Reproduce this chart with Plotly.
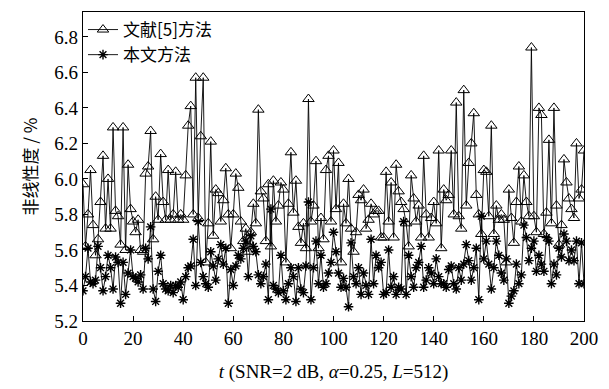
import plotly.graph_objects as go

t_values = list(range(0, 201))

ref5_method = [
    5.97, 5.62, 5.80, 6.05, 5.74, 5.57, 5.66, 5.87, 6.13, 5.72,
    6.00, 5.72, 6.29, 5.82, 5.79, 5.63, 6.29, 5.60, 6.08, 5.83,
    5.76, 5.70, 5.77, 5.60, 5.59, 6.03, 6.07, 6.27, 5.66, 5.90,
    5.77, 6.14, 5.87, 5.77, 6.05, 5.77, 5.80, 6.04, 5.77, 5.80,
    5.77, 6.02, 6.30, 6.41, 5.80, 6.57, 5.78, 6.24, 6.57, 5.53,
    5.75, 6.21, 5.68, 5.94, 5.92, 5.76, 5.88, 6.06, 5.80, 5.61,
    5.80, 6.03, 5.95, 5.76, 5.65, 5.72, 5.59, 5.70, 5.86, 5.75,
    6.39, 5.93, 5.89, 5.65, 5.97, 5.62, 5.99, 5.76, 5.85, 5.98,
    5.94, 5.53, 5.86, 6.15, 5.81, 5.99, 5.73, 5.64, 5.75, 5.61,
    6.45, 5.76, 5.85, 6.10, 5.61, 5.78, 5.66, 6.05, 6.13, 5.76,
    6.16, 5.83, 6.09, 5.53, 5.86, 5.75, 6.00, 5.72, 5.59, 5.70,
    5.91, 5.88, 5.94, 5.72, 5.77, 5.86, 5.80, 5.82, 5.82, 5.67,
    5.67, 6.04, 5.76, 5.98, 5.67, 6.08, 5.93, 5.87, 5.83, 5.75,
    5.62, 6.02, 5.89, 5.76, 5.85, 5.67, 6.13, 5.80, 5.67, 5.78,
    5.87, 5.75, 6.16, 5.61, 5.94, 5.88, 5.91, 6.16, 5.80, 6.43,
    5.79, 5.72, 6.50, 5.85, 6.09, 6.20, 6.37, 5.91, 5.80, 5.69,
    6.05, 6.04, 5.79, 6.30, 5.69, 5.85, 5.77, 5.80, 5.77, 5.53,
    5.94, 5.78, 5.64, 5.87, 6.07, 5.76, 6.02, 5.87, 5.79, 6.74,
    5.79, 5.70, 6.40, 6.36, 5.69, 5.81, 6.22, 5.75, 6.40, 5.85,
    5.63, 5.74, 6.11, 5.98, 5.89, 5.83, 5.78, 6.20, 5.89, 5.94,
    6.16,
]

this_method = [
    5.37, 5.45, 5.61, 5.42, 5.41, 5.43, 5.62, 5.50, 5.37, 5.45,
    5.57, 5.50, 5.38, 5.56, 5.53, 5.30, 5.53, 5.35, 5.47, 5.60,
    5.45, 5.44, 5.42, 5.46, 5.38, 5.61, 5.55, 5.73, 5.38, 5.31,
    5.48, 5.57, 5.41, 5.38, 5.37, 5.40, 5.36, 5.40, 5.39, 5.42,
    5.32, 5.45, 5.50, 5.51, 5.66, 5.40, 5.76, 5.53, 5.45, 5.41,
    5.39, 5.59, 5.51, 5.43, 5.55, 5.63, 5.52, 5.61, 5.30, 5.49,
    5.40, 5.51, 5.57, 5.55, 5.61, 5.65, 5.45, 5.68, 5.62, 5.59,
    5.46, 5.41, 5.45, 5.52, 5.32, 5.83, 5.40, 5.38, 5.36, 5.57,
    5.37, 5.32, 5.41, 5.50, 5.45, 5.31, 5.50, 5.38, 5.36, 5.51,
    5.87, 5.32, 5.50, 5.65, 5.41, 5.57, 5.39, 5.41, 5.47, 5.53,
    5.70, 5.59, 5.47, 5.39, 5.44, 5.39, 5.28, 5.64, 5.45, 5.41,
    5.50, 5.35, 5.47, 5.40, 5.35, 5.66, 5.41, 5.57, 5.50, 5.53,
    5.35, 5.36, 5.60, 5.39, 5.45, 5.35, 5.39, 5.38, 5.76, 5.35,
    5.57, 5.45, 5.39, 5.50, 5.53, 5.62, 5.39, 5.43, 5.50, 5.47,
    5.41, 5.55, 5.45, 5.41, 5.41, 5.39, 5.49, 5.51, 5.41, 5.38,
    5.50, 5.43, 5.52, 5.63, 5.54, 5.43, 5.50, 5.61, 5.32, 5.79,
    5.55, 5.65, 5.52, 5.38, 5.50, 5.65, 5.57, 5.47, 5.43, 5.55,
    5.30, 5.34, 5.37, 5.52, 5.41, 5.46, 5.74, 5.67, 5.54, 5.61,
    5.65, 5.48, 5.57, 5.52, 5.48, 5.67, 5.65, 5.41, 5.52, 5.46,
    5.61, 5.56, 5.69, 5.65, 5.54, 5.60, 5.54, 5.65, 5.41, 5.64,
    5.41,
]

series_names = ["文献[5]方法", "本文方法"]
x_tick_vals = list(range(0, 201, 20))
y_tick_vals = [5.2, 5.4, 5.6, 5.8, 6.0, 6.2, 6.4, 6.6, 6.8]

FONT = "Liberation Serif, Times New Roman, Noto Sans CJK SC, serif"
CJK = "Noto Sans CJK SC, Liberation Serif, serif"

fig = go.Figure()
fig.add_trace(go.Scatter(
    x=t_values, y=ref5_method, mode="lines+markers", name=series_names[0],
    line=dict(color="black", width=0.9),
    marker=dict(symbol="triangle-up-open", size=10, color="black", line=dict(width=1)),
))
fig.add_trace(go.Scatter(
    x=t_values, y=this_method, mode="lines+markers", name=series_names[1],
    line=dict(color="black", width=0.9),
    marker=dict(symbol="asterisk-open", size=8, color="black", line=dict(width=1.4, color="black")),
))

fig.update_layout(
    width=609, height=389,
    margin=dict(l=83, r=16, t=11, b=60),
    paper_bgcolor="white", plot_bgcolor="white",
    font=dict(family=FONT, size=19, color="black"),
    showlegend=True,
    legend=dict(x=0.0, y=1.0, xanchor="left", yanchor="top",
                bgcolor="rgba(0,0,0,0)", borderwidth=0,
                font=dict(family=CJK, size=17, color="black"),
                tracegroupgap=0, itemsizing="trace",
                traceorder="normal"),
)

fig.update_xaxes(
    range=[0, 200], tickvals=x_tick_vals, ticks="inside", ticklen=5,
    tickcolor="black", showline=True, linecolor="black", linewidth=1.2,
    mirror=True, showgrid=False, zeroline=False,
    tickfont=dict(family=FONT, size=19),
    title=dict(text="<i>t</i> (SNR=2 dB, <i>α</i>=0.25, <i>L</i>=512)",
               font=dict(family=FONT, size=19), standoff=16),
)
fig.update_yaxes(
    range=[5.2, 6.94], tickvals=y_tick_vals, tickformat=".1f",
    ticks="inside", ticklen=5, tickcolor="black",
    showline=True, linecolor="black", linewidth=1.2, mirror=True,
    showgrid=False, zeroline=False,
    tickfont=dict(family=FONT, size=19),
    title=dict(text="非线性度 / %", font=dict(family=CJK, size=17), standoff=12),
)

fig.write_html(
    "out.html",
    config={"displayModeBar": False},
    post_script="document.body.style.margin='0';document.body.style.overflow='hidden';",
)
